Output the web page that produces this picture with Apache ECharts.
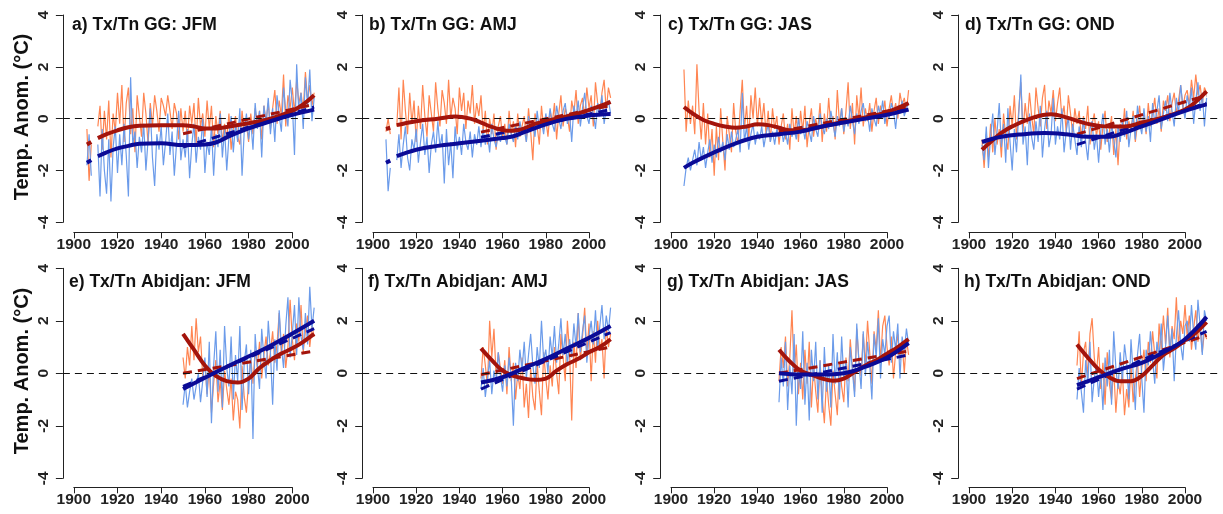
<!DOCTYPE html>
<html><head><meta charset="utf-8">
<script src="https://cdn.jsdelivr.net/npm/echarts@6/dist/echarts.min.js"></script>
<style>html,body{margin:0;padding:0;background:#fff}#c{width:1223px;height:514px}</style>
</head><body><div id="c"></div>
<script>
// ---------------- DATA ----------------
const GG_START = 1906, ABJ_START = 1950;
const X_TICKS = [1900, 2000, 20];
const Y_TICKS = [-4, 4, 2];
const titles = ['a) Tx/Tn GG: JFM','b) Tx/Tn GG: AMJ','c) Tx/Tn GG: JAS','d) Tx/Tn GG: OND',
                'e) Tx/Tn Abidjan: JFM','f) Tx/Tn Abidjan: AMJ','g) Tx/Tn Abidjan: JAS','h) Tx/Tn Abidjan: OND'];
const yTitle = 'Temp. Anom. (°C)';

// GG JFM (1906-2010)
const aTx = [-0.4,-2.4,-1.0,null,null,
 -0.3,0.5,-1.2,0.3,-0.8,0.7,-1.5,0.2,-0.5,1.0,
 -0.2,1.3,-0.9,0.6,1.2,-0.6,0.4,-1.3,0.9,0.1,
 -0.7,1.0,0.2,-1.0,0.6,-0.3,0.9,0.3,-0.5,0.8,
 0.5,0.1,0.9,0.3,-0.4,0.6,0.2,-0.8,0.4,-0.5,
 0.3,-0.9,0.5,-0.2,0.6,-1.0,0.8,-0.3,0.2,-0.7,
 0.7,-0.4,0.5,-1.1,0.1,-0.6,0.3,-0.9,-0.2,-0.8,
 0.2,-1.2,-0.4,0.1,-0.7,-1.0,0.3,-0.5,-0.2,-0.9,
 0.2,-0.6,0.4,-0.3,0.3,-0.8,0.5,-0.1,0.6,-0.4,
 0.4,1.1,-0.2,0.7,0.1,1.7,-0.3,0.9,0.4,1.2,
 0.2,1.5,0.6,1.0,0.3,1.8,0.7,1.3,0.5,1.0];
const aTn = [-1.8,-0.6,-2.2,null,null,
 -1.0,-3.0,-0.4,-2.0,-2.9,-0.8,-3.2,-1.1,-0.3,-2.1,
 -0.6,-1.8,-0.2,-1.4,-3.0,1.6,-1.0,-0.5,-1.9,-0.7,
 -1.3,-0.2,-2.0,-0.8,0.4,-1.5,-2.6,-0.6,-1.2,-0.3,
 -1.8,-0.9,0.2,-1.4,-0.5,-2.2,-1.0,0.3,-1.6,-0.8,
 -1.5,-0.4,-2.3,-1.0,-0.2,-1.7,-0.7,-1.2,0.0,-2.1,
 -0.9,-1.4,-0.3,-2.2,-0.6,-1.1,0.2,-1.5,-0.4,-2.0,
 -0.7,0.1,-1.3,-0.2,-0.9,0.4,-2.2,-0.5,0.2,-0.8,
 -0.1,-1.2,0.6,-0.4,0.3,-1.5,0.5,-0.2,0.8,-0.6,
 0.4,-0.9,0.9,0.1,-0.5,1.2,0.3,-0.3,1.5,0.6,
 -1.4,2.1,0.2,1.0,-0.4,1.6,0.5,1.9,-0.1,0.8];
const aTxFit = [[1906,-1.0],[1908,-0.9],[1909.5,null],[1911,-0.75],[1915,-0.6],[1920,-0.45],[1925,-0.33],[1930,-0.27],[1940,-0.25],[1950,-0.25],[1955,-0.3],[1960,-0.38],[1965,-0.38],[1970,-0.32],[1980,-0.18],[1990,0.0],[2000,0.3],[2005,0.55],[2010,0.9]];
const aTnFit = [[1906,-1.7],[1908,-1.6],[1909.5,null],[1911,-1.45],[1915,-1.3],[1920,-1.15],[1925,-1.05],[1930,-0.97],[1940,-0.95],[1950,-1.02],[1960,-1.0],[1965,-0.92],[1970,-0.72],[1980,-0.38],[1990,-0.1],[2000,0.15],[2010,0.35]];
const aTxTrend = [[1950,-0.58],[2010,0.55]];
const aTnTrend = [[1950,-1.1],[2010,0.45]];

// GG AMJ
const bTx = [-0.5,0.0,-0.6,null,null,
 -0.3,1.2,-0.8,1.5,0.3,-0.6,1.0,-0.2,0.7,-0.9,
 0.5,-0.4,1.3,0.1,-0.7,0.9,0.2,-0.5,1.4,0.4,
 -0.3,1.1,0.6,-0.2,1.5,0.0,0.8,0.4,-0.6,1.2,
 0.3,1.0,-0.4,0.7,0.2,1.3,-0.2,0.6,0.1,0.9,
 -0.5,0.3,-1.0,0.0,-0.6,0.2,-1.2,-0.3,0.1,-0.8,
 -0.2,-1.0,0.3,-0.6,-0.1,-1.1,0.2,-0.7,-0.3,0.1,
 -0.9,0.4,-0.5,-1.6,0.2,-0.3,-1.0,0.5,-0.4,0.0,
 -0.7,0.3,-0.2,0.6,-0.8,0.2,0.9,-0.3,0.4,0.1,
 -0.5,0.7,0.2,1.1,-0.2,0.5,0.8,0.0,1.2,0.4,
 0.9,-0.3,1.4,0.6,0.2,1.0,1.5,0.3,1.2,0.8];
const bTn = [-0.8,-2.8,-1.9,null,null,
 -1.6,-0.6,-1.9,-1.0,-0.3,-1.5,-2.0,-0.8,-1.2,-0.4,
 -1.7,-0.9,-0.2,-1.4,-0.7,-2.1,-1.0,-0.5,-1.3,-0.1,
 -1.1,-0.6,-2.5,-0.4,-1.8,-0.9,-2.3,-0.3,-1.2,-0.7,
 -1.4,-0.2,-0.9,-1.2,-0.5,-1.5,-0.6,-1.0,-0.3,-1.1,
 -0.4,-1.0,-0.6,-1.3,-0.2,-0.8,-1.1,-0.5,-0.9,-0.3,
 -0.7,-1.0,-0.2,-0.6,-0.9,-0.3,-0.8,-0.1,-0.6,-0.4,
 -0.9,0.1,-0.5,-0.2,-0.7,0.3,-0.4,-0.1,-0.6,0.2,
 -0.3,0.4,-0.2,-0.5,0.5,0.0,-0.4,0.3,0.6,-0.2,
 0.2,-0.9,0.5,0.0,0.7,-0.3,0.4,1.0,0.1,-0.2,
 0.5,0.2,-0.4,0.6,0.1,0.9,-0.2,0.4,0.7,0.2];
const bTxFit = [[1906,-0.4],[1908,-0.35],[1909.5,null],[1911,-0.25],[1920,-0.1],[1930,0.0],[1938,0.08],[1945,0.0],[1950,-0.15],[1955,-0.32],[1962,-0.47],[1967,-0.45],[1975,-0.2],[1985,0.0],[1995,0.2],[2005,0.48],[2010,0.65]];
const bTnFit = [[1906,-1.7],[1908,-1.62],[1909.5,null],[1911,-1.45],[1920,-1.2],[1930,-1.05],[1940,-0.95],[1950,-0.85],[1960,-0.75],[1965,-0.68],[1970,-0.52],[1980,-0.22],[1990,0.0],[2000,0.12],[2010,0.18]];
const bTxTrend = [[1950,-0.52],[2010,0.5]];
const bTnTrend = [[1950,-0.72],[2010,0.35]];

// GG JAS
const cTx = [1.9,-0.5,0.7,-0.2,0.5,
 -0.6,2.1,0.3,-0.8,0.6,-1.0,0.2,-1.5,-0.4,-2.2,
 -0.3,-1.6,0.4,-0.9,-2.0,0.1,-0.6,-1.3,0.6,-0.5,
 -1.0,0.3,1.5,-0.4,0.5,-0.8,0.9,0.0,1.2,-0.3,
 0.8,-0.2,0.6,-0.6,0.3,-0.9,0.4,-0.4,0.1,-1.0,
 -0.3,0.2,-0.8,-0.2,-1.2,0.4,-0.6,0.1,-0.9,0.3,
 -0.5,0.5,-1.1,-0.2,0.4,-0.7,0.0,-0.4,0.6,-0.9,
 0.2,-0.5,0.8,-0.3,0.1,-0.8,1.1,-0.2,0.4,-0.6,
 0.3,1.4,-0.4,0.6,-1.0,0.9,0.0,1.2,-0.3,0.4,
 -0.1,0.6,-0.5,0.3,0.8,-0.2,0.5,0.1,0.7,-0.3,
 0.4,0.9,0.2,0.6,0.0,1.0,0.5,0.8,0.3,1.1];
const cTn = [-2.6,-1.9,-1.5,-2.0,-1.6,
 -1.2,-1.8,-0.9,-1.6,-1.1,-1.9,-1.3,-0.8,-1.7,-1.0,
 -1.5,-0.7,-1.3,-0.9,-1.6,-0.6,-1.2,-0.5,-1.1,-0.8,
 -0.4,-1.3,1.0,-0.9,-0.3,-1.2,-0.6,-0.2,-1.0,-0.5,
 -0.8,-0.3,-1.1,-0.6,-0.2,-0.9,-0.5,-1.0,-0.4,-0.7,
 -0.3,-0.9,-0.5,-1.0,-0.2,-0.7,-0.4,-0.8,0.0,-0.6,
 -0.3,-0.8,-0.1,-0.5,-0.9,0.1,-0.4,-0.7,0.2,-0.3,
 -0.6,0.0,-0.4,0.3,-0.2,-0.7,0.1,-0.3,0.4,-0.5,
 0.0,-0.3,0.5,-0.1,-0.6,0.2,-0.2,0.3,0.6,-0.1,
 0.2,-0.5,0.4,0.0,-0.3,0.5,0.1,0.7,-0.2,0.3,
 0.0,0.6,0.3,-0.4,0.5,0.2,0.7,0.1,0.4,0.6];
const cTxFit = [[1906,0.45],[1910,0.2],[1915,-0.05],[1920,-0.2],[1925,-0.3],[1930,-0.35],[1935,-0.3],[1940,-0.22],[1945,-0.25],[1950,-0.35],[1955,-0.45],[1960,-0.45],[1970,-0.3],[1980,-0.12],[1990,0.05],[2000,0.25],[2010,0.6]];
const cTnFit = [[1906,-1.9],[1910,-1.7],[1920,-1.3],[1930,-0.95],[1940,-0.7],[1950,-0.6],[1960,-0.5],[1970,-0.3],[1980,-0.15],[1990,0.0],[2000,0.15],[2010,0.35]];
const cTxTrend = [[1950,-0.5],[2010,0.45]];
const cTnTrend = [[1950,-0.6],[2010,0.35]];

// GG OND
const dTx = [-0.8,-1.9,-0.6,-1.5,-0.2,
 -1.3,0.0,-1.0,-0.4,-1.5,0.2,-0.7,-1.2,0.5,-0.3,
 0.9,-0.8,0.3,1.4,-0.5,0.6,-0.2,1.0,0.1,-0.6,
 1.2,0.4,-0.3,0.8,1.3,-0.4,0.7,0.2,1.1,-0.1,
 0.6,1.2,0.0,0.5,-0.5,0.9,0.2,-0.6,0.4,-0.2,
 0.3,-0.8,0.1,-0.4,0.5,-1.0,-0.2,0.2,-0.7,-0.1,
 -1.2,-0.3,0.3,-0.9,-0.5,0.1,-1.4,-0.4,-1.8,-0.2,
 -0.6,0.4,-0.8,-0.1,-0.5,0.3,-0.9,-0.2,0.5,-0.4,
 0.1,-0.6,0.6,-0.3,0.2,0.8,-0.2,0.4,-0.5,0.7,
 0.3,0.9,-0.1,0.6,1.0,0.2,0.7,1.3,0.4,0.9,
 1.1,0.5,1.5,0.8,1.7,0.9,1.3,0.6,1.2,1.0];
const dTn = [-1.0,-1.6,-0.3,-1.9,-0.7,
 0.2,-1.4,-0.5,0.6,-1.1,-0.2,-1.7,0.4,-0.9,-2.0,
 -0.4,-1.3,0.1,1.7,-1.0,-0.3,-1.8,0.2,-0.7,-1.2,
 -0.1,-0.9,0.5,-1.5,-0.4,0.3,-1.1,-0.6,0.8,-1.0,
 -0.3,-0.8,0.4,-1.3,-0.5,0.1,-1.2,-0.2,-0.8,-1.4,
 -0.3,-1.1,0.0,-0.9,-1.6,-0.4,-0.1,-1.2,-0.6,-1.7,
 -0.5,0.2,-1.0,-0.4,-1.3,-0.2,-0.8,-1.5,-0.3,-0.9,
 -0.1,-0.7,0.3,-1.1,-0.4,0.1,-0.8,0.5,-0.2,-0.6,
 0.4,-0.5,0.1,-0.9,0.6,-0.2,0.3,0.9,-0.4,0.2,
 0.7,-0.1,1.0,0.3,-0.3,0.8,0.2,1.3,0.5,0.0,
 0.9,0.4,1.2,-0.2,0.7,1.4,0.3,1.0,-0.3,0.8];
const dTxFit = [[1906,-1.2],[1910,-0.9],[1915,-0.55],[1920,-0.3],[1930,0.05],[1938,0.17],[1945,0.05],[1955,-0.2],[1965,-0.3],[1972,-0.3],[1980,-0.15],[1990,0.05],[2000,0.35],[2005,0.65],[2010,1.05]];
const dTnFit = [[1906,-0.9],[1915,-0.7],[1925,-0.6],[1935,-0.55],[1945,-0.6],[1955,-0.7],[1965,-0.7],[1970,-0.6],[1980,-0.3],[1990,0.0],[2000,0.3],[2010,0.55]];
const dTxTrend = [[1950,-0.6],[2010,0.9]];
const dTnTrend = [[1950,-1.0],[2010,0.6]];

// Abidjan JFM (1950-2010)
const eTx = [0.6,-0.2,1.0,0.3,1.8,0.5,2.1,0.8,1.4,-0.1,0.4,
 -0.8,0.2,-1.5,-0.4,0.5,-1.1,-0.3,-1.4,0.1,-0.6,
 -1.2,-0.2,-1.8,-0.7,-1.0,-2.1,0.3,-0.9,-1.5,-0.3,
 0.6,-0.4,0.9,0.2,1.2,-0.2,0.7,1.4,0.3,0.8,
 1.6,0.4,1.1,2.3,0.7,1.5,0.2,1.0,2.8,1.3,
 0.5,1.9,1.2,2.6,0.8,1.6,2.2,1.0,1.8,1.4];
const eTn = [-1.2,-0.4,-1.3,-0.7,-0.2,-1.0,-0.5,0.0,-1.1,-0.3,0.6,
 -0.9,1.2,-1.9,0.3,1.6,-0.7,0.9,-1.3,1.8,0.2,
 -0.5,1.4,-1.0,0.7,-0.3,1.8,-1.4,0.4,1.1,-0.8,
 0.9,-2.5,1.5,0.3,-0.6,1.7,0.6,-0.2,2.0,0.8,
 -1.2,1.3,0.1,2.4,1.0,0.2,1.8,2.9,0.6,1.5,
 2.6,0.7,2.9,1.4,0.9,2.3,1.1,3.3,1.7,2.5];
const eTxFit = [[1950,1.5],[1955,0.9],[1960,0.3],[1965,-0.1],[1970,-0.3],[1975,-0.35],[1980,-0.2],[1985,0.2],[1990,0.5],[1995,0.75],[2000,0.95],[2005,1.2],[2010,1.5]];
const eTnFit = [[1950,-0.6],[1970,0.25],[1990,1.05],[2010,2.0]];
const eTxTrend = [[1950,0.0],[2010,0.85]];
const eTnTrend = [[1950,-0.5],[2010,1.7]];

// Abidjan AMJ
const fTx = [-0.2,1.0,0.3,-0.5,2.0,0.6,1.7,-0.1,0.8,0.2,-0.4,
 0.5,-0.8,1.0,-0.3,0.4,-1.0,0.0,-0.6,0.6,-1.3,
 -0.4,-1.7,0.2,-0.9,-1.4,0.4,-0.7,-1.6,0.8,-0.2,
 -1.0,0.3,-0.5,1.0,0.0,-0.8,1.5,0.6,-0.3,2.0,
 0.8,-1.8,1.2,0.2,2.3,0.5,1.4,2.5,0.7,1.9,
 -0.3,1.6,0.4,2.0,0.9,1.3,-0.2,1.8,1.0,1.5];
const fTn = [-0.6,0.2,-0.9,-0.2,0.5,-0.8,0.1,-0.4,0.8,-0.1,-0.7,
 0.3,-0.5,0.6,-0.2,-2.0,0.4,-0.3,0.9,0.1,1.2,
 -0.2,0.7,1.5,0.3,-0.4,1.0,0.2,2.0,0.5,0.9,
 0.0,1.4,0.6,1.8,0.4,1.1,2.1,0.7,1.5,0.3,
 1.3,0.6,1.9,1.0,2.3,0.8,1.6,2.2,0.4,1.4,
 2.0,1.1,2.4,0.9,1.8,2.6,1.3,2.2,1.6,2.5];
const fTxFit = [[1950,0.95],[1955,0.5],[1960,0.1],[1965,-0.1],[1970,-0.2],[1975,-0.25],[1980,-0.2],[1985,0.1],[1990,0.35],[1995,0.55],[2000,0.8],[2005,1.0],[2010,1.3]];
const fTnFit = [[1950,-0.35],[1960,-0.15],[1970,0.2],[1980,0.55],[1990,0.95],[2000,1.35],[2010,1.8]];
const fTxTrend = [[1950,-0.05],[2010,1.0]];
const fTnTrend = [[1950,-0.6],[2010,1.55]];

// Abidjan JAS
const gTx = [-0.3,1.0,0.2,1.4,-0.5,0.6,2.4,0.0,1.1,-0.8,0.4,
 -1.0,0.9,-0.4,1.2,-1.3,0.3,-0.7,-1.5,0.5,-0.9,
 -1.9,-0.2,-1.2,-2.0,0.1,-0.8,-1.6,0.4,-0.5,-1.1,
 0.6,-0.3,1.3,0.2,-0.7,1.7,0.5,-0.1,1.5,0.3,
 2.0,0.8,-0.4,1.6,0.9,2.4,0.4,1.8,2.2,1.0,
 0.3,1.4,-0.2,0.8,1.5,0.5,1.2,0.0,1.3,0.7];
const gTn = [-1.1,0.6,-0.5,1.2,-1.4,0.3,-0.8,1.5,-2.0,0.2,-0.6,
 1.6,-1.2,0.4,-1.8,0.9,-0.3,1.2,-1.0,0.5,-1.5,
 1.0,-0.7,0.3,-1.3,1.5,-0.4,0.8,-1.0,1.4,-0.2,
 0.5,-1.3,1.0,0.1,-0.9,1.9,0.4,-0.6,1.6,-0.1,
 1.2,0.3,-1.0,1.5,0.6,2.1,-0.2,1.3,0.7,1.8,
 2.2,0.4,1.6,0.9,1.9,-0.2,1.4,0.8,1.7,1.1];
const gTxFit = [[1950,0.9],[1955,0.45],[1960,0.1],[1965,-0.05],[1970,-0.2],[1975,-0.28],[1980,-0.2],[1985,0.05],[1990,0.3],[1995,0.5],[2000,0.75],[2005,1.0],[2010,1.3]];
const gTnFit = [[1950,0.0],[1960,-0.05],[1970,-0.05],[1980,0.0],[1990,0.25],[2000,0.6],[2010,1.15]];
const gTxTrend = [[1950,0.0],[2010,0.85]];
const gTnTrend = [[1950,-0.3],[2010,0.7]];

// Abidjan OND
const hTx = [0.3,1.6,-0.5,0.8,1.2,-0.2,1.5,2.1,0.6,0.0,1.0,
 -0.6,0.4,-1.2,0.8,-0.4,-1.0,0.2,-1.5,-0.3,-0.8,
 0.1,-1.6,-0.6,-1.3,0.3,-1.1,-0.2,0.5,-0.9,0.2,
 0.9,-0.3,1.2,0.4,1.6,0.7,-0.2,1.9,0.9,2.2,
 1.1,2.5,0.6,1.8,1.3,2.9,1.0,2.0,1.5,2.6,
 1.4,2.2,0.9,1.7,2.4,1.2,1.9,0.8,1.6,1.3];
const hTn = [-1.0,0.2,-0.7,-1.5,0.5,-0.4,1.2,-1.1,-0.2,0.3,-0.9,
 0.1,-1.4,0.6,-0.5,0.9,-1.2,1.6,0.2,-0.6,0.8,
 -0.3,1.1,0.4,-1.0,1.3,0.0,-1.4,0.7,1.5,-0.2,
 -1.5,0.9,0.3,1.6,0.5,-0.4,1.2,0.6,1.9,0.1,
 1.0,2.2,0.8,1.7,-0.3,1.4,2.4,1.1,0.5,1.8,
 2.0,1.2,2.6,1.5,0.9,2.8,1.8,0.7,2.4,2.0];
const hTxFit = [[1950,1.1],[1955,0.6],[1960,0.15],[1965,-0.15],[1970,-0.3],[1975,-0.3],[1980,-0.1],[1985,0.3],[1990,0.7],[1995,0.95],[2000,1.25],[2005,1.55],[2010,1.95]];
const hTnFit = [[1950,-0.45],[1960,-0.15],[1970,0.15],[1980,0.4],[1990,0.8],[2000,1.3],[2010,2.15]];
const hTxTrend = [[1950,-0.2],[2010,1.45]];
const hTnTrend = [[1950,-0.6],[2010,1.6]];

const panelData = [
  [GG_START, aTx, aTn, aTxFit, aTnFit, aTxTrend, aTnTrend],
  [GG_START, bTx, bTn, bTxFit, bTnFit, bTxTrend, bTnTrend],
  [GG_START, cTx, cTn, cTxFit, cTnFit, cTxTrend, cTnTrend],
  [GG_START, dTx, dTn, dTxFit, dTnFit, dTxTrend, dTnTrend],
  [ABJ_START, eTx, eTn, eTxFit, eTnFit, eTxTrend, eTnTrend],
  [ABJ_START, fTx, fTn, fTxFit, fTnFit, fTxTrend, fTnTrend],
  [ABJ_START, gTx, gTn, gTxFit, gTnFit, gTxTrend, gTnTrend],
  [ABJ_START, hTx, hTn, hTxFit, hTnFit, hTxTrend, hTnTrend]
];

// ---------------- LAYOUT / STYLE ----------------
const X_MIN = 1895, X_MAX = 2015;
const col1900 = [73.8, 373, 671, 969];
const colScale = [2.185, 2.16, 2.16, 2.16];
const rowTop = [15, 268.3];      // y pixel of +4
const rowBottom = [222.3, 478.3]; // y pixel of -4
const rowXAxis = [232.3, 487.3];
const titlePos = [[72,26],[369,26],[668,26],[965,26],[69,283],[368,283],[667,283],[964,283]];
const FONT = 'Liberation Sans, Arial, sans-serif';
const C_TX = '#FF8552', C_TN = '#6B9BEA', C_TXF = '#A3140C', C_TNF = '#0B0B96', AX = '#222';

function toPairs(start, vals){ return vals.map((v,i)=>[start+i, v]); }

const grid = [], xAxis = [], yAxis = [], series = [], graphic = [];
panelData.forEach((p, k) => {
  const col = k % 4, row = Math.floor(k / 4);
  const s = colScale[col];
  const left = col1900[col] - (1900 - X_MIN) * s;
  const top = rowTop[row], height = rowBottom[row] - rowTop[row];
  grid.push({left: left, top: top, width: (X_MAX - X_MIN) * s, height: height, containLabel: false});
  const gi = grid.length - 1;
  xAxis.push({gridIndex: gi, type: 'value', min: X_MIN, max: X_MAX, show: false});
  yAxis.push({gridIndex: gi, type: 'value', min: Y_TICKS[0], max: Y_TICKS[1], interval: Y_TICKS[2],
    axisLine: {show: true, lineStyle: {color: AX, width: 1}},
    axisTick: {show: true, length: 7, lineStyle: {color: AX}},
    axisLabel: {rotate: 90, margin: 11, color: AX, fontSize: 15.5, fontWeight: 'bold', fontFamily: FONT},
    splitLine: {show: false}});
  grid.push({left: col1900[col], top: rowXAxis[row] - 1, width: 100 * s, height: 1, containLabel: false});
  const ti = grid.length - 1;
  xAxis.push({gridIndex: ti, type: 'value', min: X_TICKS[0], max: X_TICKS[1], interval: X_TICKS[2], position: 'bottom',
    axisLine: {show: true, lineStyle: {color: AX, width: 1}},
    axisTick: {show: true, length: 6, lineStyle: {color: AX}},
    axisLabel: {margin: 4, color: AX, fontSize: 15.5, fontWeight: 'bold', fontFamily: FONT, formatter: v => String(v)},
    splitLine: {show: false}});
  yAxis.push({gridIndex: ti, type: 'value', min: 0, max: 1, show: false});

  const [start, tx, tn, txFit, tnFit, txTr, tnTr] = p;
  const base = {type: 'line', xAxisIndex: gi, yAxisIndex: gi, showSymbol: false, symbol: 'none', silent: true, connectNulls: false};
  series.push(Object.assign({}, base, {data: toPairs(start, tx), lineStyle: {color: C_TX, width: 1.2}, z: 2,
    markLine: {silent: true, symbol: 'none', label: {show: false},
      lineStyle: {color: '#111', width: 1, type: [7, 5]}, data: [{yAxis: 0}]}}));
  series.push(Object.assign({}, base, {data: toPairs(start, tn), lineStyle: {color: C_TN, width: 1.2}, z: 3}));
  series.push(Object.assign({}, base, {data: txTr, lineStyle: {color: C_TXF, width: 3, type: [9, 6]}, z: 4}));
  series.push(Object.assign({}, base, {data: tnTr, lineStyle: {color: C_TNF, width: 3, type: [9, 6]}, z: 4}));
  series.push(Object.assign({}, base, {data: txFit, smooth: 0.4, lineStyle: {color: C_TXF, width: 4}, z: 5}));
  series.push(Object.assign({}, base, {data: tnFit, smooth: 0.4, lineStyle: {color: C_TNF, width: 4}, z: 6}));

  graphic.push({type: 'text', left: titlePos[k][0], top: titlePos[k][1] - 10, z: 100,
    style: {text: titles[k], font: 'bold 17.5px ' + FONT, fill: '#111'}});
});
[117, 371].forEach(cy => {
  graphic.push({type: 'text', x: 22, y: cy, rotation: Math.PI / 2, z: 100,
    style: {text: yTitle, font: 'bold 20px ' + FONT, fill: '#111', textAlign: 'center', textVerticalAlign: 'middle'}});
});

const chart = echarts.init(document.getElementById('c'), null, {renderer: 'canvas'});
chart.setOption({animation: false, backgroundColor: '#fff', grid, xAxis, yAxis, series, graphic});
</script></body></html>
